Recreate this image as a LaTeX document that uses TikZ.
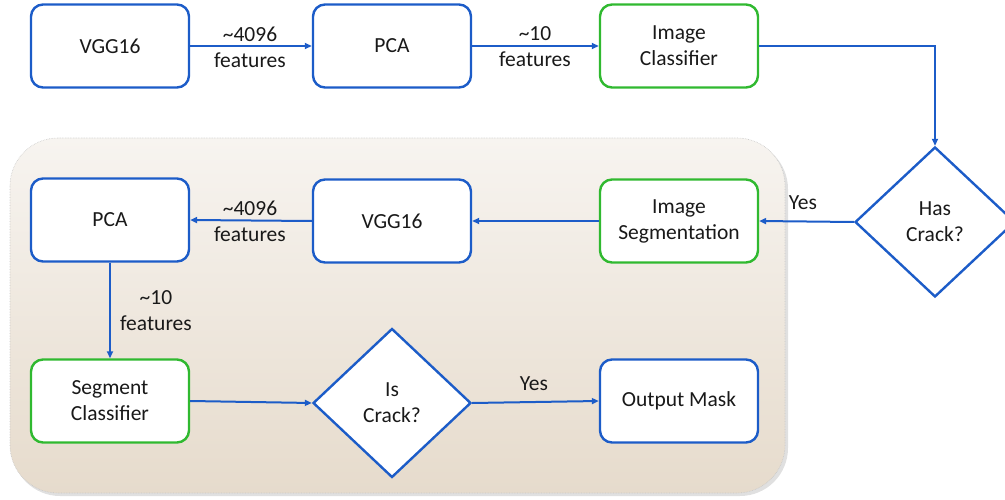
\documentclass[tikz,border=0pt]{standalone}
\usepackage{fontspec}
\setmainfont{Carlito}
\usetikzlibrary{shapes.geometric,arrows.meta}
\definecolor{lineblue}{RGB}{28,92,200}
\definecolor{boxgreen}{RGB}{48,185,48}
\definecolor{bgtop}{RGB}{247,244,240}
\definecolor{bgbot}{RGB}{230,219,204}
\tikzset{
  stepbox/.style={draw=lineblue, line width=2.4pt, rounded corners=12pt, fill=white,
    minimum width=158pt, minimum height=83pt, align=center, font=\fontsize{21.5}{26}\selectfont, text=black!90},
  greenbox/.style={stepbox, draw=boxgreen},
  decision/.style={diamond, draw=lineblue, line width=2.4pt, fill=white, inner sep=0pt,
    minimum width=159pt, minimum height=150pt, align=center, font=\fontsize{21.5}{26}\selectfont, text=black!90},
  conn/.style={draw=lineblue, line width=2pt, -{Triangle[length=7pt,width=6pt]}},
  lbl/.style={align=center, font=\fontsize{21.5}{26}\selectfont, text=black!90, inner sep=1pt}
}
\begin{document}
\begin{tikzpicture}[x=1pt,y=-1pt]
\useasboundingbox (0,0) rectangle (1005,500);
% background panel
\fill[black!12, rounded corners=48pt] (12,141) rectangle (788,496);
\shade[top color=bgtop, bottom color=bgbot, rounded corners=48pt, draw=black!22, densely dotted, line width=0.6pt]
  (10,138) rectangle (785,493);
% top row
\node[stepbox] (vgg1) at (110,46) {VGG16};
\node[stepbox] (pca1) at (392,46) {PCA};
\node[greenbox] (imgcls) at (679,46) {Image\\Classifier};
\node[decision, minimum width=160pt] (has) at (935,222) {Has\\Crack?};
% second row
\node[stepbox] (pca2) at (110,220) {PCA};
\node[stepbox] (vgg2) at (392,221) {VGG16};
\node[greenbox] (imgseg) at (679,221) {Image\\Segmentation};
% third row
\node[greenbox] (segcls) at (110,401) {Segment\\Classifier};
\node[decision, minimum width=158pt, minimum height=149pt] (is) at (392,403) {Is\\Crack?};
\node[stepbox] (mask) at (679,401) {Output Mask};
% connectors
\draw[conn] (vgg1.east) -- (pca1.west);
\node[lbl] (l1) at (250,47) {\textasciitilde4096\\features};
\draw[conn] (pca1.east) -- (imgcls.west);
\node[lbl] (l2) at (535,47) {\textasciitilde10\\features};
\draw[conn] (imgcls.east) -| (has.north);
\draw[conn] (has.west) -- (imgseg.east);
\node[lbl] (l3) at (803,203) {Yes};
\draw[conn] (imgseg.west) -- (vgg2.east);
\draw[conn] (vgg2.west) -- (pca2.east);
\node[lbl] (l4) at (250,221) {\textasciitilde4096\\features};
\draw[conn] (pca2.south) -- (segcls.north);
\node[lbl] (l5) at (156,311) {\textasciitilde10\\features};
\draw[conn] (segcls.east) -- (is.west);
\draw[conn] (is.east) -- (mask.west);
\node[lbl] (l6) at (534,384) {Yes};
\end{tikzpicture}
\end{document}
